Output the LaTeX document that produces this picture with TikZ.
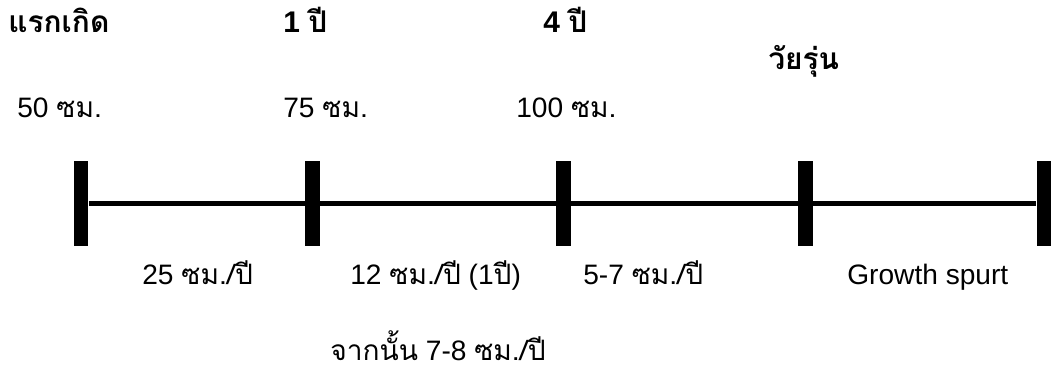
\documentclass[tikz,border=0pt]{standalone}
\usepackage{fontspec}
\setmainfont{Liberation Sans}
\newfontfamily\thaifont[Script=Thai]{Loma}
\newcommand{\tht}[1]{{\thaifont #1}}

\begin{document}
\begin{tikzpicture}[x=0.02cm, y=-0.02cm,
  every node/.style={inner sep=0pt, font=\fontsize{16}{20}\selectfont},
  tick/.style={fill=black, minimum width=0.3cm, minimum height=1.7cm},
  age/.style={anchor=base west, font=\fontsize{17}{20}\selectfont\bfseries},
  lbl/.style={anchor=base west}]

\useasboundingbox (0,0) rectangle (1051,371);

% ticks on the time line
\node[tick] (t1) at (81,203.5) {};
\node[tick] (t2) at (312,203.5) {};
\node[tick] (t3) at (563,203.5) {};
\node[tick] (t4) at (805,203.5) {};
\node[tick] (t5) at (1044,203.5) {};

\draw[line width=3pt] (t1) -- (t5);

% ages
\node[age] (birth) at (8,33) {\tht{แรกเกิด}};
\node[age] (y1) at (283,33) {1 \tht{ปี}};
\node[age] (y4) at (543,33) {4 \tht{ปี}};
\node[age] (teen) at (768,70) {\tht{วัยรุ่น}};

% heights
\node[lbl] (h1) at (17,118) {50 \tht{ซม.}};
\node[lbl] (h2) at (283,118) {75 \tht{ซม.}};
\node[lbl] (h3) at (516,118) {100 \tht{ซม.}};

% rates
\node[lbl] (r1) at (142,284) {25 \tht{ซม./ปี}};
\node[lbl] (r2) at (350,284) {12 \tht{ซม./ปี} (1\tht{ปี})};
\node[lbl] (r3) at (583,284) {5-7 \tht{ซม./ปี}};
\node[lbl] (r4) at (847,284) {Growth spurt};
\node[lbl] (r5) at (330,360) {\tht{จากนั้น} 7-8 \tht{ซม./ปี}};

\end{tikzpicture}
\end{document}
